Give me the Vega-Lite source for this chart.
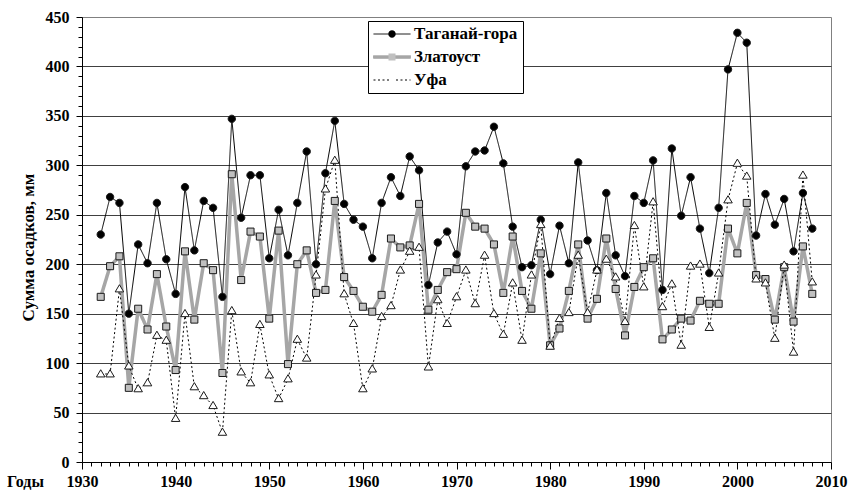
{
  "$schema": "https://vega.github.io/schema/vega-lite/v6.json",
  "width": 749,
  "height": 445,
  "autosize": {"type": "none"},
  "padding": {"left": 82, "top": 17, "right": 19, "bottom": 31},
  "background": "white",
  "config": {"view": {"stroke": "#808080", "strokeWidth": 1}, "font": "Liberation Serif"},
  "data": {"values": [
    {"station":"Таганай-гора","year":1932,"value":230},{"station":"Таганай-гора","year":1933,"value":268},{"station":"Таганай-гора","year":1934,"value":262},{"station":"Таганай-гора","year":1935,"value":150},{"station":"Таганай-гора","year":1936,"value":220},{"station":"Таганай-гора","year":1937,"value":201},{"station":"Таганай-гора","year":1938,"value":262},{"station":"Таганай-гора","year":1939,"value":205},{"station":"Таганай-гора","year":1940,"value":170},{"station":"Таганай-гора","year":1941,"value":278},{"station":"Таганай-гора","year":1942,"value":214},{"station":"Таганай-гора","year":1943,"value":264},{"station":"Таганай-гора","year":1944,"value":257},{"station":"Таганай-гора","year":1945,"value":167},{"station":"Таганай-гора","year":1946,"value":347},{"station":"Таганай-гора","year":1947,"value":247},{"station":"Таганай-гора","year":1948,"value":290},{"station":"Таганай-гора","year":1949,"value":290},{"station":"Таганай-гора","year":1950,"value":206},{"station":"Таганай-гора","year":1951,"value":255},{"station":"Таганай-гора","year":1952,"value":209},{"station":"Таганай-гора","year":1953,"value":262},{"station":"Таганай-гора","year":1954,"value":314},{"station":"Таганай-гора","year":1955,"value":200},{"station":"Таганай-гора","year":1956,"value":292},{"station":"Таганай-гора","year":1957,"value":345},{"station":"Таганай-гора","year":1958,"value":261},{"station":"Таганай-гора","year":1959,"value":245},{"station":"Таганай-гора","year":1960,"value":238},{"station":"Таганай-гора","year":1961,"value":206},{"station":"Таганай-гора","year":1962,"value":262},{"station":"Таганай-гора","year":1963,"value":288},{"station":"Таганай-гора","year":1964,"value":269},{"station":"Таганай-гора","year":1965,"value":309},{"station":"Таганай-гора","year":1966,"value":295},{"station":"Таганай-гора","year":1967,"value":179},{"station":"Таганай-гора","year":1968,"value":222},{"station":"Таганай-гора","year":1969,"value":233},{"station":"Таганай-гора","year":1970,"value":210},{"station":"Таганай-гора","year":1971,"value":299},{"station":"Таганай-гора","year":1972,"value":314},{"station":"Таганай-гора","year":1973,"value":315},{"station":"Таганай-гора","year":1974,"value":339},{"station":"Таганай-гора","year":1975,"value":302},{"station":"Таганай-гора","year":1976,"value":238},{"station":"Таганай-гора","year":1977,"value":197},{"station":"Таганай-гора","year":1978,"value":199},{"station":"Таганай-гора","year":1979,"value":245},{"station":"Таганай-гора","year":1980,"value":190},{"station":"Таганай-гора","year":1981,"value":239},{"station":"Таганай-гора","year":1982,"value":201},{"station":"Таганай-гора","year":1983,"value":303},{"station":"Таганай-гора","year":1984,"value":224},{"station":"Таганай-гора","year":1985,"value":194},{"station":"Таганай-гора","year":1986,"value":272},{"station":"Таганай-гора","year":1987,"value":209},{"station":"Таганай-гора","year":1988,"value":188},{"station":"Таганай-гора","year":1989,"value":269},{"station":"Таганай-гора","year":1990,"value":262},{"station":"Таганай-гора","year":1991,"value":305},{"station":"Таганай-гора","year":1992,"value":174},{"station":"Таганай-гора","year":1993,"value":317},{"station":"Таганай-гора","year":1994,"value":249},{"station":"Таганай-гора","year":1995,"value":288},{"station":"Таганай-гора","year":1996,"value":236},{"station":"Таганай-гора","year":1997,"value":191},{"station":"Таганай-гора","year":1998,"value":257},{"station":"Таганай-гора","year":1999,"value":397},{"station":"Таганай-гора","year":2000,"value":434},{"station":"Таганай-гора","year":2001,"value":424},{"station":"Таганай-гора","year":2002,"value":229},{"station":"Таганай-гора","year":2003,"value":271},{"station":"Таганай-гора","year":2004,"value":240},{"station":"Таганай-гора","year":2005,"value":266},{"station":"Таганай-гора","year":2006,"value":213},{"station":"Таганай-гора","year":2007,"value":272},{"station":"Таганай-гора","year":2008,"value":236},
    {"station":"Златоуст","year":1932,"value":167},{"station":"Златоуст","year":1933,"value":198},{"station":"Златоуст","year":1934,"value":208},{"station":"Златоуст","year":1935,"value":75},{"station":"Златоуст","year":1936,"value":155},{"station":"Златоуст","year":1937,"value":134},{"station":"Златоуст","year":1938,"value":190},{"station":"Златоуст","year":1939,"value":137},{"station":"Златоуст","year":1940,"value":93},{"station":"Златоуст","year":1941,"value":213},{"station":"Златоуст","year":1942,"value":144},{"station":"Златоуст","year":1943,"value":201},{"station":"Златоуст","year":1944,"value":194},{"station":"Златоуст","year":1945,"value":90},{"station":"Златоуст","year":1946,"value":291},{"station":"Златоуст","year":1947,"value":184},{"station":"Златоуст","year":1948,"value":233},{"station":"Златоуст","year":1949,"value":228},{"station":"Златоуст","year":1950,"value":145},{"station":"Златоуст","year":1951,"value":234},{"station":"Златоуст","year":1952,"value":99},{"station":"Златоуст","year":1953,"value":200},{"station":"Златоуст","year":1954,"value":214},{"station":"Златоуст","year":1955,"value":171},{"station":"Златоуст","year":1956,"value":174},{"station":"Златоуст","year":1957,"value":264},{"station":"Златоуст","year":1958,"value":187},{"station":"Златоуст","year":1959,"value":173},{"station":"Златоуст","year":1960,"value":157},{"station":"Златоуст","year":1961,"value":152},{"station":"Златоуст","year":1962,"value":169},{"station":"Златоуст","year":1963,"value":226},{"station":"Златоуст","year":1964,"value":217},{"station":"Златоуст","year":1965,"value":219},{"station":"Златоуст","year":1966,"value":261},{"station":"Златоуст","year":1967,"value":154},{"station":"Златоуст","year":1968,"value":174},{"station":"Златоуст","year":1969,"value":192},{"station":"Златоуст","year":1970,"value":195},{"station":"Златоуст","year":1971,"value":252},{"station":"Златоуст","year":1972,"value":238},{"station":"Златоуст","year":1973,"value":236},{"station":"Златоуст","year":1974,"value":220},{"station":"Златоуст","year":1975,"value":171},{"station":"Златоуст","year":1976,"value":228},{"station":"Златоуст","year":1977,"value":173},{"station":"Златоуст","year":1978,"value":155},{"station":"Златоуст","year":1979,"value":211},{"station":"Златоуст","year":1980,"value":118},{"station":"Златоуст","year":1981,"value":135},{"station":"Златоуст","year":1982,"value":173},{"station":"Златоуст","year":1983,"value":220},{"station":"Златоуст","year":1984,"value":145},{"station":"Златоуст","year":1985,"value":165},{"station":"Златоуст","year":1986,"value":226},{"station":"Златоуст","year":1987,"value":175},{"station":"Златоуст","year":1988,"value":128},{"station":"Златоуст","year":1989,"value":177},{"station":"Златоуст","year":1990,"value":197},{"station":"Златоуст","year":1991,"value":206},{"station":"Златоуст","year":1992,"value":124},{"station":"Златоуст","year":1993,"value":134},{"station":"Златоуст","year":1994,"value":145},{"station":"Златоуст","year":1995,"value":143},{"station":"Златоуст","year":1996,"value":163},{"station":"Златоуст","year":1997,"value":160},{"station":"Златоуст","year":1998,"value":160},{"station":"Златоуст","year":1999,"value":236},{"station":"Златоуст","year":2000,"value":211},{"station":"Златоуст","year":2001,"value":262},{"station":"Златоуст","year":2002,"value":189},{"station":"Златоуст","year":2003,"value":185},{"station":"Златоуст","year":2004,"value":144},{"station":"Златоуст","year":2005,"value":197},{"station":"Златоуст","year":2006,"value":142},{"station":"Златоуст","year":2007,"value":218},{"station":"Златоуст","year":2008,"value":170},
    {"station":"Уфа","year":1932,"value":89},{"station":"Уфа","year":1933,"value":89},{"station":"Уфа","year":1934,"value":175},{"station":"Уфа","year":1935,"value":97},{"station":"Уфа","year":1936,"value":74},{"station":"Уфа","year":1937,"value":80},{"station":"Уфа","year":1938,"value":128},{"station":"Уфа","year":1939,"value":123},{"station":"Уфа","year":1940,"value":44},{"station":"Уфа","year":1941,"value":150},{"station":"Уфа","year":1942,"value":76},{"station":"Уфа","year":1943,"value":67},{"station":"Уфа","year":1944,"value":57},{"station":"Уфа","year":1945,"value":30},{"station":"Уфа","year":1946,"value":153},{"station":"Уфа","year":1947,"value":91},{"station":"Уфа","year":1948,"value":80},{"station":"Уфа","year":1949,"value":139},{"station":"Уфа","year":1950,"value":88},{"station":"Уфа","year":1951,"value":64},{"station":"Уфа","year":1952,"value":84},{"station":"Уфа","year":1953,"value":124},{"station":"Уфа","year":1954,"value":105},{"station":"Уфа","year":1955,"value":189},{"station":"Уфа","year":1956,"value":276},{"station":"Уфа","year":1957,"value":305},{"station":"Уфа","year":1958,"value":170},{"station":"Уфа","year":1959,"value":140},{"station":"Уфа","year":1960,"value":74},{"station":"Уфа","year":1961,"value":94},{"station":"Уфа","year":1962,"value":147},{"station":"Уфа","year":1963,"value":158},{"station":"Уфа","year":1964,"value":194},{"station":"Уфа","year":1965,"value":213},{"station":"Уфа","year":1966,"value":217},{"station":"Уфа","year":1967,"value":96},{"station":"Уфа","year":1968,"value":164},{"station":"Уфа","year":1969,"value":140},{"station":"Уфа","year":1970,"value":167},{"station":"Уфа","year":1971,"value":194},{"station":"Уфа","year":1972,"value":160},{"station":"Уфа","year":1973,"value":209},{"station":"Уфа","year":1974,"value":150},{"station":"Уфа","year":1975,"value":129},{"station":"Уфа","year":1976,"value":181},{"station":"Уфа","year":1977,"value":123},{"station":"Уфа","year":1978,"value":189},{"station":"Уфа","year":1979,"value":240},{"station":"Уфа","year":1980,"value":117},{"station":"Уфа","year":1981,"value":145},{"station":"Уфа","year":1982,"value":151},{"station":"Уфа","year":1983,"value":209},{"station":"Уфа","year":1984,"value":151},{"station":"Уфа","year":1985,"value":194},{"station":"Уфа","year":1986,"value":205},{"station":"Уфа","year":1987,"value":187},{"station":"Уфа","year":1988,"value":142},{"station":"Уфа","year":1989,"value":239},{"station":"Уфа","year":1990,"value":177},{"station":"Уфа","year":1991,"value":263},{"station":"Уфа","year":1992,"value":157},{"station":"Уфа","year":1993,"value":180},{"station":"Уфа","year":1994,"value":118},{"station":"Уфа","year":1995,"value":198},{"station":"Уфа","year":1996,"value":200},{"station":"Уфа","year":1997,"value":136},{"station":"Уфа","year":1998,"value":191},{"station":"Уфа","year":1999,"value":265},{"station":"Уфа","year":2000,"value":302},{"station":"Уфа","year":2001,"value":289},{"station":"Уфа","year":2002,"value":185},{"station":"Уфа","year":2003,"value":181},{"station":"Уфа","year":2004,"value":125},{"station":"Уфа","year":2005,"value":199},{"station":"Уфа","year":2006,"value":111},{"station":"Уфа","year":2007,"value":290},{"station":"Уфа","year":2008,"value":182}
  ]},
  "encoding": {
    "x": {
      "field": "year", "type": "quantitative",
      "scale": {"domain": [1930, 2010], "nice": false, "zero": false},
      "axis": {
        "title": "Годы",
        "values": [1930,1931,1932,1933,1934,1935,1936,1937,1938,1939,1940,1941,1942,1943,1944,1945,1946,1947,1948,1949,1950,1951,1952,1953,1954,1955,1956,1957,1958,1959,1960,1961,1962,1963,1964,1965,1966,1967,1968,1969,1970,1971,1972,1973,1974,1975,1976,1977,1978,1979,1980,1981,1982,1983,1984,1985,1986,1987,1988,1989,1990,1991,1992,1993,1994,1995,1996,1997,1998,1999,2000,2001,2002,2003,2004,2005,2006,2007,2008,2009,2010],
        "format": "d",
        "labelExpr": "datum.value % 10 === 0 ? datum.label : ''",
        "labelOverlap": false, "labelFlush": false,
        "labelFont": "Liberation Serif", "labelFontSize": 16, "labelFontWeight": "bold", "labelColor": "#000000",
        "labelPadding": 4, "labelBaseline": "top",
        "tickSize": {"condition": {"test": "datum.value % 10 === 0", "value": 7}, "value": 4},
        "tickColor": "#000000", "tickWidth": 1,
        "domainColor": "#000000", "domainWidth": 1,
        "grid": false,
        "titleFont": "Liberation Serif", "titleFontSize": 16, "titleFontWeight": "bold", "titleColor": "#000000",
        "titleX": -57, "titleY": 19, "titleAlign": "center", "titleBaseline": "middle", "titleAngle": 0
      }
    },
    "y": {
      "field": "value", "type": "quantitative",
      "scale": {"domain": [0, 450], "nice": false},
      "axis": {
        "title": "Сумма осадков, мм",
        "values": [0,10,20,30,40,50,60,70,80,90,100,110,120,130,140,150,160,170,180,190,200,210,220,230,240,250,260,270,280,290,300,310,320,330,340,350,360,370,380,390,400,410,420,430,440,450],
        "labelExpr": "datum.value % 50 === 0 ? datum.label : ''",
        "labelOverlap": false, "labelFlush": false,
        "labelFont": "Liberation Serif", "labelFontSize": 16, "labelFontWeight": "bold", "labelColor": "#000000",
        "labelPadding": 7,
        "tickSize": {"condition": {"test": "datum.value % 50 === 0", "value": 6}, "value": 4},
        "tickColor": "#000000", "tickWidth": 1,
        "domainColor": "#000000", "domainWidth": 1,
        "grid": true, "gridColor": "#404040", "gridWidth": 1,
        "gridOpacity": {"condition": {"test": "datum.value % 50 === 0 && datum.value > 0 && datum.value < 450", "value": 1}, "value": 0},
        "titleFont": "Liberation Serif", "titleFontSize": 17, "titleFontWeight": "bold", "titleColor": "#000000",
        "titleX": -54, "titleY": 230, "titleAngle": -90, "titleAlign": "center", "titleBaseline": "middle"
      }
    }
  },
  "layer": [
    {
      "mark": {"type": "line", "strokeJoin": "round"},
      "encoding": {
        "stroke": {
          "field": "station", "type": "nominal",
          "scale": {"domain": ["Таганай-гора", "Златоуст", "Уфа"], "range": ["#000000", "#a6a6a6", "#000000"]},
          "legend": {
            "orient": "none", "legendX": 286, "legendY": 4, "title": null, "zindex": 1,
            "padding": 5, "strokeColor": "#000000", "fillColor": "#ffffff", "cornerRadius": 0,
            "symbolType": "M-1,0L1,0", "symbolSize": 1369, "symbolStrokeWidth": 1, "symbolFillColor": "#a6a6a6",
            "clipHeight": 16, "rowPadding": 6,
            "labelFont": "Liberation Serif", "labelFontSize": 17, "labelFontWeight": "bold", "labelColor": "#000000",
            "labelOffset": 3, "labelLimit": 0,
            "encode": {"symbols": {"update": {"shape": {"signal": "(datum.value === 'Златоуст' ? 'M-1,-0.07L1,-0.07L1,0.07L-1,0.07Z' : 'M-1,0L1,0')"}}}}
          }
        },
        "strokeDash": {
          "field": "station", "type": "nominal",
          "scale": {"domain": ["Таганай-гора", "Златоуст", "Уфа"], "range": [[1, 0], [1, 0], [2, 2.5]]},
          "legend": {
            "orient": "none", "legendX": 286, "legendY": 4, "title": null, "zindex": 1,
            "padding": 5, "strokeColor": "#000000", "fillColor": "#ffffff", "cornerRadius": 0,
            "symbolType": "M-1,0L1,0", "symbolSize": 1369, "symbolStrokeWidth": 1, "symbolFillColor": "#a6a6a6",
            "clipHeight": 16, "rowPadding": 6,
            "labelFont": "Liberation Serif", "labelFontSize": 17, "labelFontWeight": "bold", "labelColor": "#000000",
            "labelOffset": 3, "labelLimit": 0,
            "encode": {"symbols": {"update": {"shape": {"signal": "(datum.value === 'Златоуст' ? 'M-1,-0.07L1,-0.07L1,0.07L-1,0.07Z' : 'M-1,0L1,0')"}}}}
          }
        },
        "strokeWidth": {"condition": {"test": "datum.station === 'Златоуст'", "value": 3.5}, "value": 1}
      }
    },
    {
      "mark": {"type": "point", "filled": true, "stroke": "#1a1a1a", "strokeWidth": 1, "size": 1369, "opacity": 1},
      "encoding": {
        "shape": {
          "field": "station", "type": "nominal", "sort": null,
          "scale": {"range": [
            "M-1 0M1 0M-0.2 0A0.2 0.2 0 1 0 0.2 0A0.2 0.2 0 1 0 -0.2 0Z",
            "M-1 0M1 0M-0.19 -0.19L0.19 -0.19L0.19 0.19L-0.19 0.19Z",
            "M-1 0M1 0M0 -0.23L0.23 0.16L-0.23 0.16Z"
          ]},
          "legend": {
            "orient": "none", "legendX": 286, "legendY": 4, "title": null, "zindex": 2,
            "padding": 5, "strokeColor": "transparent", "fillColor": "transparent",
            "symbolSize": 1369, "symbolStrokeWidth": 1, "symbolStrokeColor": "#1a1a1a", "symbolOpacity": 1,
            "clipHeight": 16, "rowPadding": 6,
            "labelFont": "Liberation Serif", "labelFontSize": 17, "labelFontWeight": "bold", "labelColor": "#000000",
            "labelOffset": 3, "labelLimit": 0, "labelOpacity": 0
          }
        },
        "fill": {
          "field": "station", "type": "nominal", "sort": null,
          "scale": {"range": ["#000000", "#c0c0c0", "#ffffff"]},
          "legend": {
            "orient": "none", "legendX": 286, "legendY": 4, "title": null, "zindex": 2,
            "padding": 5, "strokeColor": "transparent", "fillColor": "transparent",
            "symbolSize": 1369, "symbolStrokeWidth": 1, "symbolStrokeColor": "#1a1a1a", "symbolOpacity": 1,
            "clipHeight": 16, "rowPadding": 6,
            "labelFont": "Liberation Serif", "labelFontSize": 17, "labelFontWeight": "bold", "labelColor": "#000000",
            "labelOffset": 3, "labelLimit": 0, "labelOpacity": 0
          }
        }
      }
    }
  ]
}
